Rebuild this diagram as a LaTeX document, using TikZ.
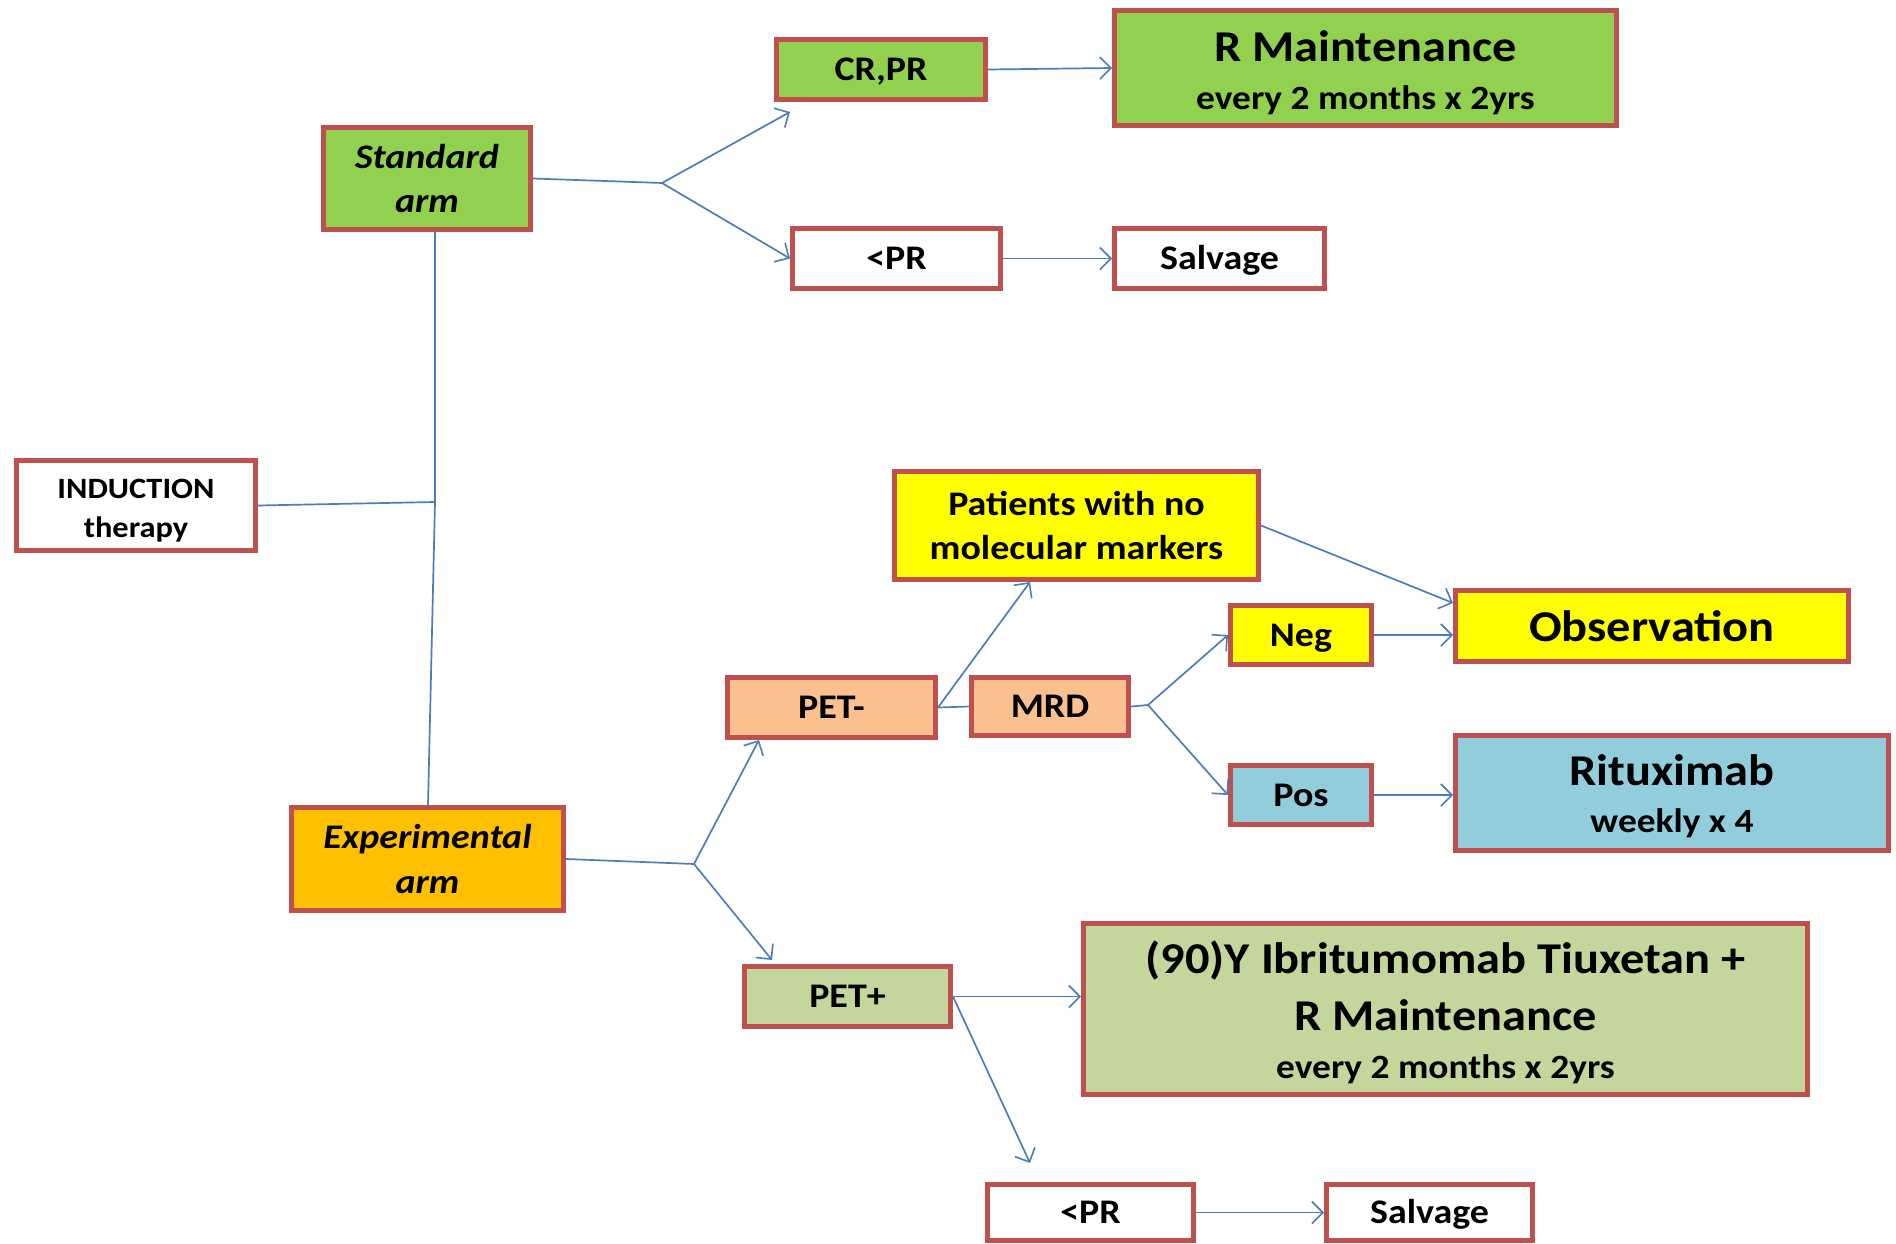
\documentclass[tikz,border=0pt]{standalone}
\usepackage{fontspec}
\setmainfont{Carlito}[FakeStretch=1.1]
\usetikzlibrary{arrows.meta}
\definecolor{bordred}{HTML}{C0504D}
\definecolor{lnblue}{HTML}{4A7EBB}
\definecolor{cgreen}{HTML}{92D050}
\definecolor{cyellow}{HTML}{FFFF00}
\definecolor{corange}{HTML}{FFC000}
\definecolor{cpeach}{HTML}{FAC090}
\definecolor{cblue}{HTML}{92CDDC}
\definecolor{colive}{HTML}{C3D69B}
\newcommand\upst[1]{\rule{0pt}{#1pt}}
\newcommand\dnst{\rule[-12pt]{0pt}{12pt}}
\begin{document}
\begin{tikzpicture}[x=1pt,y=-1pt,
  box/.style={draw=bordred, line width=5pt, rectangle, inner sep=0pt, align=center,
    font=\bfseries\fontsize{34.5}{44}\selectfont},
  one/.style={text height=22pt, text depth=0pt},
  conn/.style={draw=lnblue, line width=1.7pt},
  arr/.style={conn, -{Straight Barb[length=11pt,width=22pt,line width=1.6pt]}}]
\useasboundingbox[fill=white] (0,0) rectangle (1896,1244);

% nodes
\node[box, fill=white, minimum width=239, minimum height=90,
  font=\bfseries\fontsize{29.5}{39}\selectfont] (ind) at (136,505.5) {\upst{36}INDUCTION\\therapy\dnst};
\node[box, fill=cgreen, minimum width=207, minimum height=102,
  font=\bfseries\itshape\fontsize{34.5}{44}\selectfont] (std) at (427,178.5) {\upst{35}Standard\\arm\dnst};
\node[box, fill=corange, minimum width=272, minimum height=103,
  font=\bfseries\itshape\fontsize{34.5}{45}\selectfont] (exp) at (427.5,859) {\upst{35}Experimental\\arm\dnst};
\node[box, one, fill=cgreen, minimum width=209, minimum height=60] (crpr) at (881,69.5) {CR,PR};
\node[box, fill=cgreen, minimum width=502, minimum height=115,
  font=\bfseries\fontsize{44}{48}\selectfont] (rmaint) at (1365.5,68)
  {\upst{48}R Maintenance\\{\fontsize{34}{48}\selectfont every 2 months x 2yrs}\dnst};
\node[box, one, fill=white, minimum width=208, minimum height=60] (prT) at (896.5,258.5) {<PR};
\node[box, one, fill=white, minimum width=210, minimum height=60] (salvT) at (1219.5,258.5) {Salvage};
\node[box, fill=cyellow, minimum width=364, minimum height=108] (pat) at (1076.5,525.5)
  {\upst{36}Patients with no\\molecular markers\dnst};
\node[box, fill=cyellow, minimum width=393, minimum height=71, text height=30pt, text depth=0pt,
  font=\bfseries\fontsize{44}{50}\selectfont] (obs) at (1652,626) {Observation};
\node[box, one, fill=cyellow, minimum width=141, minimum height=59] (neg) at (1301,635) {Neg};
\node[box, one, fill=cpeach, minimum width=208, minimum height=60] (petm) at (831.5,707.5) {PET-};
\node[box, one, fill=cpeach, minimum width=157, minimum height=58] (mrd) at (1050,706.5) {MRD};
\node[box, one, fill=cblue, minimum width=141, minimum height=59] (pos) at (1301,795) {Pos};
\node[box, fill=cblue, minimum width=433, minimum height=115,
  font=\bfseries\fontsize{44}{47}\selectfont] (rit) at (1672,793)
  {\upst{43}Rituximab\\{\fontsize{34}{47}\selectfont weekly x 4}\dnst};
\node[box, one, fill=colive, minimum width=206, minimum height=60] (petp) at (847.5,996.5) {PET+};
\node[box, fill=colive, minimum width=724, minimum height=171,
  font=\bfseries\fontsize{44}{48}\selectfont] (yib) at (1445.5,1009)
  {\upst{45}(90)Y Ibritumomab Tiuxetan +\\[9pt]R Maintenance\\{\fontsize{34}{48}\selectfont every 2 months x 2yrs}\dnst};
\node[box, one, fill=white, minimum width=206, minimum height=56] (prB) at (1090.5,1212.5) {<PR};
\node[box, one, fill=white, minimum width=206, minimum height=56] (salvB) at (1429.5,1212.5) {Salvage};

% junctions
\coordinate (j) at (435,502);
\coordinate (fstd) at (662,183);
\coordinate (fexp) at (694,864);
\coordinate (fmrd) at (1148,705);
\coordinate (crprIn) at (790,112);
\coordinate (petmIn) at (759,740);
\coordinate (petpIn) at (772,960);
\coordinate (patIn) at (1030,582);
\coordinate (prBIn) at (1030,1163);
\coordinate (obsIn) at (1453,603);

% connectors
\draw[conn] (ind.east) -- (j);
\draw[conn] (j) -- (std.south -| j);
\draw[conn] (j) -- (428,805);
\draw[conn] (std.east) -- (fstd);
\draw[arr] (fstd) -- (crprIn);
\draw[arr] (fstd) -- (prT.west);
\draw[arr] (crpr.east) -- (rmaint.west);
\draw[arr] (prT.east) -- (salvT.west);
\draw[conn] (exp.east) -- (fexp);
\draw[arr] (fexp) -- (petmIn);
\draw[arr] (fexp) -- (petpIn);
\draw[conn] (petm.east) -- (mrd.west);
\draw[arr] (petm.east) -- (patIn);
\draw[arr] (pat.east) -- (obsIn);
\draw[conn] (mrd.east) -- (fmrd);
\draw[arr] (fmrd) -- (neg.west);
\draw[arr] (fmrd) -- (pos.west);
\draw[arr] (neg.east) -- (obs.west |- neg.east);
\draw[arr] (pos.east) -- (rit.west |- pos.east);
\draw[arr] (petp.east) -- (yib.west |- petp.east);
\draw[arr] (petp.east) -- (prBIn);
\draw[arr] (prB.east) -- (salvB.west);
\end{tikzpicture}
\end{document}
